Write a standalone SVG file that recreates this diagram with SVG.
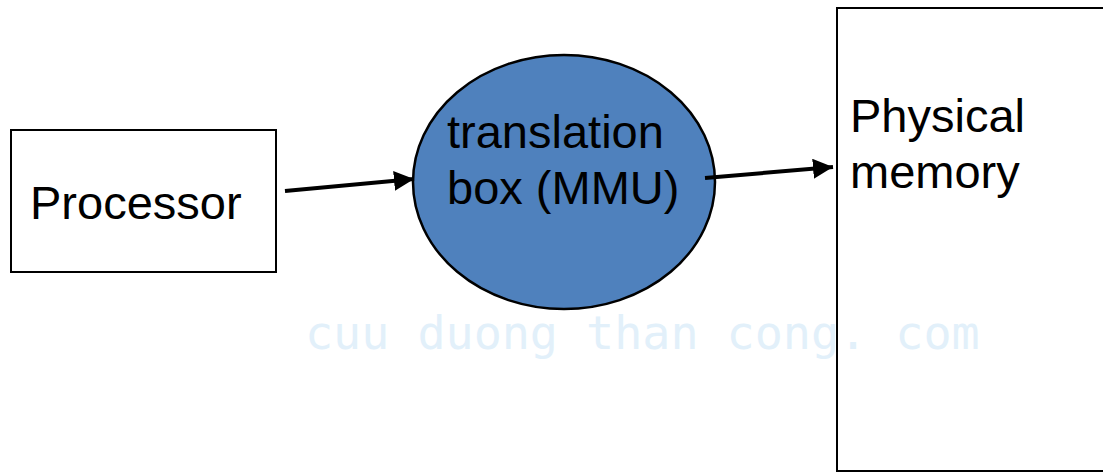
<svg xmlns="http://www.w3.org/2000/svg" width="1103" height="472" viewBox="0 0 1103 472">
<style>
.lbl{font-family:"Liberation Sans",Arial,sans-serif;font-size:47px;fill:#000}
.box{fill:#fff;stroke:#000;stroke-width:2}
.conn{stroke:#000;stroke-width:4;fill:none}
.wm{font-family:"DejaVu Sans Mono",monospace;font-size:46.7px;fill:#E2F0FA}
</style>
<defs>
<marker id="ah" markerUnits="userSpaceOnUse" markerWidth="22" markerHeight="20" refX="20" refY="10" orient="auto">
<path d="M0,0 L20,10 L0,20 Z" fill="#000"/>
</marker>
</defs>
<rect width="1103" height="472" fill="#fff"/>
<g id="processor">
<rect class="box" x="11" y="130" width="265" height="142"/>
<text class="lbl" x="30" y="219">Processor</text>
</g>
<g id="mmu">
<ellipse cx="564" cy="182" rx="151" ry="127" fill="#4F81BD" stroke="#000" stroke-width="2.5"/>
<text class="lbl" x="447" y="148">translation</text>
<text class="lbl" x="447" y="204">box (MMU)</text>
</g>
<g id="memory">
<rect class="box" x="837" y="8" width="280" height="463"/>
<text class="lbl" x="850" y="132">Physical</text>
<text class="lbl" x="850" y="188">memory</text>
</g>
<g id="connectors">
<line class="conn" x1="285" y1="191" x2="414" y2="179" marker-end="url(#ah)"/>
<line class="conn" x1="705" y1="178" x2="833" y2="167" marker-end="url(#ah)"/>
</g>
<text class="wm" x="305" y="349">cuu duong than cong. com</text>
</svg>
